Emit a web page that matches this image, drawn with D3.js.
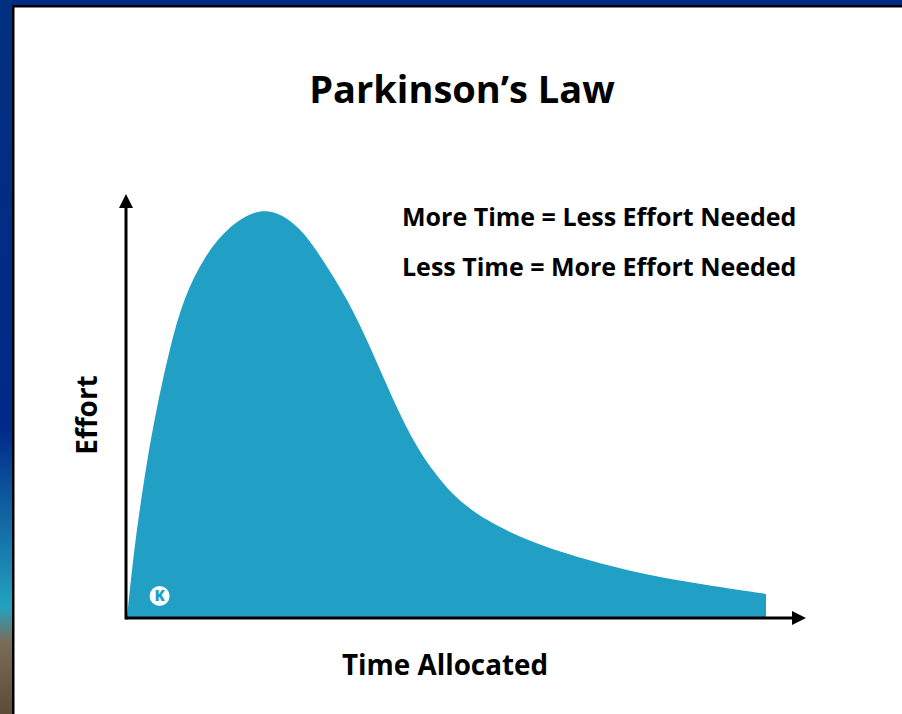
<!DOCTYPE html>
<html>
<head>
<meta charset="utf-8">
<script src="https://cdn.jsdelivr.net/npm/d3@7"></script>
<style>
  body { margin: 0; background: #fff; }
  svg { display: block; }
</style>
</head>
<body>
<svg id="chart"></svg>
<script>
// effort curve (time 0-100, effort 0-100)
var time_vals   = [0, 1.1, 2.2, 3.4, 4.9, 6.7, 8.9, 12.1, 15.8, 21.6, 27.1, 30.5, 34.6, 38.3, 41.6, 45.5, 49.0, 51.8, 56.0, 62.3, 71.7, 81.1, 90.5, 100];
var effort_vals = [0, 16.5, 28.9, 41.2, 53.6, 66.5, 79, 89, 96.5, 102, 96.5, 88.5, 78.3, 65.9, 53.6, 41.2, 33.8, 28.9, 24.0, 19.0, 14.1, 10.4, 7.9, 5.7];
var title_text = "Parkinson’s Law";
var note_lines = ["More Time = Less Effort Needed", "Less Time = More Effort Needed"];
var x_label = "Time Allocated";
var y_label = "Effort";

var W = 902, H = 714;
var font = "'Open Sans', 'Noto Sans', sans-serif";

var svg = d3.select("#chart").attr("width", W).attr("height", H);

// window frame from the screenshot
var defs = svg.append("defs");
var grad = defs.append("linearGradient").attr("id", "side").attr("x1", 0).attr("y1", 0).attr("x2", 0).attr("y2", 1);
grad.append("stop").attr("offset", "0%").attr("stop-color", "#00307f");
grad.append("stop").attr("offset", "60%").attr("stop-color", "#002a8a");
grad.append("stop").attr("offset", "85%").attr("stop-color", "#23a2bd");
grad.append("stop").attr("offset", "90%").attr("stop-color", "#7a6c58");
grad.append("stop").attr("offset", "100%").attr("stop-color", "#5c4c38");

svg.append("rect").attr("width", W).attr("height", 6).attr("fill", "#002a85");
svg.append("rect").attr("width", 12).attr("height", H).attr("fill", "url(#side)");
svg.append("rect").attr("x", 12).attr("y", 5).attr("width", W - 12).attr("height", 2.5).attr("fill", "#000");
svg.append("rect").attr("x", 12).attr("y", 5).attr("width", 2.5).attr("height", H - 5).attr("fill", "#000");

var margin = {left: 127, right: 136, top: 212, bottom: 97};
var plotW = W - margin.left - margin.right,
    plotH = H - margin.top - margin.bottom;

var x = d3.scaleLinear().domain([0, 100]).range([0, plotW]);
var y = d3.scaleLinear().domain([0, 100]).range([plotH, 0]);

var g = svg.append("g").attr("transform", "translate(" + margin.left + "," + margin.top + ")");

var pts = time_vals.map(function(t, i) { return {t: t, e: effort_vals[i]}; });

var area = d3.area()
  .x(function(d) { return x(d.t); })
  .y0(y(0))
  .y1(function(d) { return y(d.e); })
  .curve(d3.curveBasis);

g.append("path")
  .attr("d", area(pts))
  .attr("fill", "#219fc4");

// little logo in the corner
var logo = g.append("g").attr("transform", "translate(" + x(5.1) + "," + (y(0) - 21) + ")");
logo.append("circle").attr("r", 10).attr("fill", "#fff");
logo.append("text").text("K")
  .attr("text-anchor", "middle").attr("dy", "0.36em")
  .attr("font-family", font).attr("font-weight", 800).attr("font-size", "15px")
  .attr("fill", "#219fc4");

// axes with arrow heads
var axisY = y(0) + 1;
g.append("line")
  .attr("x1", -1).attr("x2", x(100) + 30)
  .attr("y1", axisY).attr("y2", axisY)
  .attr("stroke", "#000").attr("stroke-width", 3);
g.append("path")
  .attr("d", "M" + (x(100) + 40) + "," + axisY + "l-14,-7v14z")
  .attr("fill", "#000");

g.append("line")
  .attr("x1", -1).attr("x2", -1)
  .attr("y1", axisY + 1.5).attr("y2", -8)
  .attr("stroke", "#000").attr("stroke-width", 3);
g.append("path")
  .attr("d", "M-1,-18l-7,14h14z")
  .attr("fill", "#000");

svg.append("text")
  .text(title_text)
  .attr("x", 462).attr("y", 103)
  .attr("text-anchor", "middle")
  .attr("font-family", font).attr("font-weight", 700).attr("font-size", "38px")
  .attr("fill", "#000");

svg.selectAll(".note")
  .data(note_lines)
  .enter().append("text")
  .attr("class", "note")
  .text(function(d) { return d; })
  .attr("x", 402)
  .attr("y", function(d, i) { return 226 + i * 50; })
  .attr("font-family", font).attr("font-weight", 700).attr("font-size", "25px")
  .attr("fill", "#000");

svg.append("text")
  .text(x_label)
  .attr("x", 445).attr("y", 675)
  .attr("text-anchor", "middle")
  .attr("font-family", font).attr("font-weight", 700).attr("font-size", "27.8px")
  .attr("fill", "#000");

svg.append("text")
  .text(y_label)
  .attr("transform", "translate(97,415) rotate(-90)")
  .attr("text-anchor", "middle")
  .attr("font-family", font).attr("font-weight", 700).attr("font-size", "28px")
  .attr("fill", "#000");
</script>
</body>
</html>
